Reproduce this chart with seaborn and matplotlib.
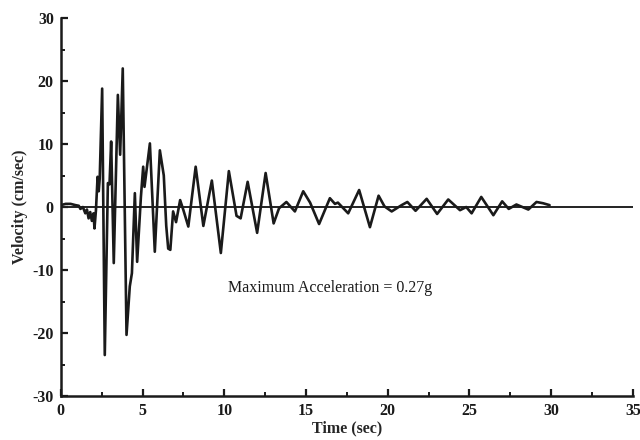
import matplotlib
matplotlib.use("Agg")
import matplotlib.pyplot as plt
import seaborn as sns
import pandas as pd
from matplotlib.ticker import MultipleLocator

# Data (time in s, velocity in cm/sec)
time_s = [0.0, 0.3, 0.6, 0.9, 1.1, 1.2, 1.35, 1.5, 1.6, 1.7, 1.8, 1.9, 2.0, 2.06,
          2.15, 2.25, 2.32, 2.38, 2.53, 2.69, 2.88, 2.98, 3.08, 3.24, 3.49, 3.63,
          3.79, 4.02, 4.22, 4.35, 4.53, 4.67, 4.9, 5.04, 5.12, 5.45, 5.75, 6.06,
          6.3, 6.45, 6.57, 6.7, 6.87, 7.05, 7.3, 7.5, 7.8, 8.25, 8.72, 9.24,
          9.79, 10.28, 10.75, 11.0, 11.43, 12.01, 12.53, 13.02, 13.35, 13.8,
          14.32, 14.83, 15.25, 15.8, 16.46, 16.77, 16.95, 17.58, 18.25, 18.91,
          19.44, 19.8, 20.24, 20.85, 21.2, 21.7, 22.38, 23.02, 23.7, 24.42,
          24.8, 25.13, 25.72, 26.46, 27.0, 27.4, 27.87, 28.6, 29.1, 29.5, 29.9]
velocity = [0.3, 0.5, 0.5, 0.3, 0.2, -0.3, 0.0, -1.0, -0.4, -1.8, -0.8, -2.2, -1.0, -3.4,
            -0.5, 4.8, 2.5, 4.5, 18.8, -23.5, 3.8, 3.6, 10.4, -8.9, 17.8, 8.3,
            22.0, -20.3, -12.6, -10.5, 2.2, -8.7, 1.6, 6.4, 3.2, 10.1, -7.1, 9.0,
            5.0, -3.0, -6.6, -6.8, -0.7, -2.4, 1.1, -0.5, -3.1, 6.4, -3.0, 4.2,
            -7.3, 5.7, -1.4, -1.8, 4.0, -4.1, 5.4, -2.6, -0.2, 0.8,
            -0.7, 2.5, 0.7, -2.7, 1.4, 0.5, 0.7, -1.0, 2.7, -3.2,
            1.8, 0.1, -0.7, 0.3, 0.8, -0.6, 1.3, -1.1, 1.2, -0.5,
            0.0, -1.0, 1.6, -1.3, 0.9, -0.3, 0.4, -0.4, 0.8, 0.6, 0.3]

x_ticks = [0, 5, 10, 15, 20, 25, 30, 35]
y_ticks = [-30, -20, -10, 0, 10, 20, 30]
annotation = "Maximum Acceleration = 0.27g"

sns.set_theme(style="ticks")
plt.rcParams['font.family'] = ['Liberation Serif', 'DejaVu Serif']
plt.rcParams['axes.unicode_minus'] = False

df = pd.DataFrame({"Time (sec)": time_s, "Velocity (cm/sec)": velocity})

fig = plt.figure(figsize=(6.4, 4.4), dpi=100)
ax = fig.add_axes([0.095, 0.10, 0.894, 0.859])

ax.axhline(0, color="#222222", lw=1.4, zorder=1)
sns.lineplot(data=df, x="Time (sec)", y="Velocity (cm/sec)", ax=ax,
             color="#1a1a1a", lw=1.9, zorder=2, sort=False)
for ln in ax.lines:
    ln.set_solid_joinstyle("round")

ax.set_xlim(0, 35)
ax.set_ylim(-30, 30)
ax.set_xticks(x_ticks)
ax.set_yticks(y_ticks)
ax.xaxis.set_minor_locator(MultipleLocator(2.5))
ax.yaxis.set_minor_locator(MultipleLocator(5))
ax.tick_params(which="major", direction="in", length=5, width=1.6, colors="#1a1a1a",
               labelsize=11.5, pad=5)
ax.tick_params(which="minor", direction="in", length=3, width=1.4, colors="#1a1a1a")
for lab in ax.get_xticklabels() + ax.get_yticklabels():
    lab.set_fontweight("bold")

sns.despine(ax=ax)
for s in ["left", "bottom"]:
    ax.spines[s].set_linewidth(1.8)
    ax.spines[s].set_color("#1a1a1a")

ax.set_xlabel("Time (sec)", fontsize=11.5, fontweight="bold", labelpad=1)
ax.set_ylabel("Velocity (cm/sec)", fontsize=11.5, fontweight="bold", labelpad=3)

ax.text(16.5, -12.9, annotation, ha="center", va="center", fontsize=11.5,
        color="#1a1a1a")

fig.savefig("out.png", dpi=100, facecolor="white")
